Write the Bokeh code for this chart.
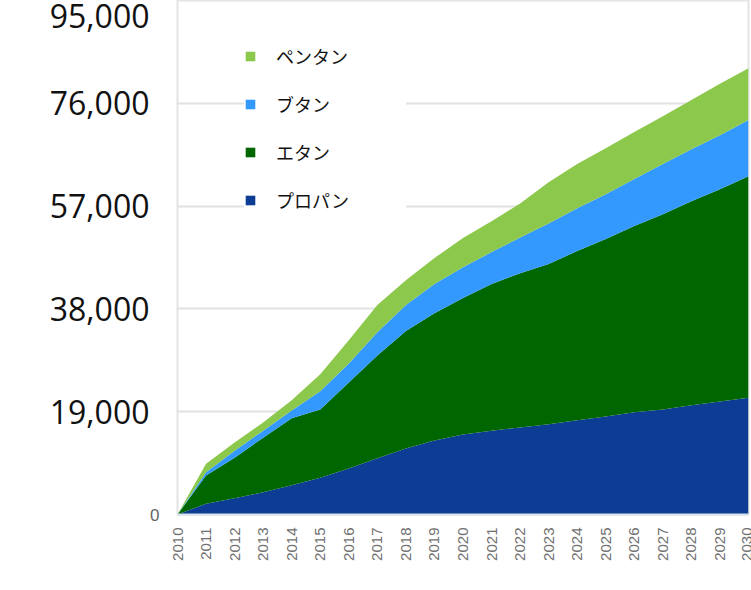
import math
from bokeh.plotting import figure
from bokeh.models import (ColumnDataSource, Range1d, FixedTicker, Legend, LegendItem,
                          LinearAxis, NumeralTickFormatter)
from bokeh.embed import file_html
from bokeh.resources import INLINE

years = list(range(2010, 2031))
propane = [0, 2000, 3000, 4100, 5400, 6800, 8500, 10400, 12200, 13700, 14800,
           15500, 16100, 16700, 17400, 18100, 18900, 19400, 20200, 20900, 21600]
ethane = [0, 5200, 7500, 10100, 12400, 12600, 15900, 19000, 21700, 23500, 25200,
          27100, 28500, 29600, 31300, 32800, 34400, 36100, 37700, 39200, 40900]
butane = [0, 600, 1300, 1300, 1400, 3400, 3500, 4300, 4800, 5400, 5700,
          5900, 6600, 7500, 7900, 8300, 8700, 9300, 9600, 10000, 10400]
pentane = [0, 1600, 1500, 1500, 1900, 3100, 4300, 5000, 4600, 4800, 5400,
           5700, 6300, 7600, 8200, 8500, 8700, 8800, 9100, 9500, 9600]

series_keys = ["propane", "ethane", "butane", "pentane"]
series_names = ["プロパン", "エタン", "ブタン", "ペンタン"]
colors = ["#0c3c94", "#006600", "#3399ff", "#8cc84b"]
grid_ticks = [0, 19000, 38000, 57000, 76000, 95000]
# the big tick labels; the top one sits just below the frame's top edge, as in the source
label_ticks = [19000, 38000, 57000, 76000, 92200]
label_texts = ["19,000", "38,000", "57,000", "76,000", "95,000"]

src = ColumnDataSource(dict(year=years, propane=propane, ethane=ethane,
                            butane=butane, pentane=pentane))

p = figure(width=751, height=590, output_backend="svg", toolbar_location=None,
           x_range=Range1d(2010, 2030), y_range=Range1d(0, 95000),
           min_border_left=177, min_border_right=3, min_border_top=0,
           min_border_bottom=76)
p.background_fill_color = "white"
p.border_fill_color = "white"
p.outline_line_color = "#e4e4e4"
p.outline_line_width = 2

rs = p.varea_stack(stackers=series_keys, x="year", color=colors, source=src)

p.xgrid.visible = False
p.ygrid.ticker = FixedTicker(ticks=grid_ticks)
p.ygrid.grid_line_color = "#e2e2e2"
p.ygrid.grid_line_width = 2

# inner axis: the small grey "0"
ya = p.yaxis[0]
ya.ticker = FixedTicker(ticks=[0])
ya.formatter = NumeralTickFormatter(format="0,0")
ya.major_label_text_font = "Liberation Sans"
ya.major_label_text_font_size = "17px"
ya.major_label_text_color = "#666666"
ya.major_label_standoff = 12
ya.axis_line_color = None
ya.major_tick_line_color = None
ya.minor_tick_line_color = None

# outer axis: the large labels
ya2 = LinearAxis(ticker=FixedTicker(ticks=label_ticks),
                 major_label_overrides={t: s for t, s in zip(label_ticks, label_texts)})
ya2.major_label_text_font = "Open Sans"
ya2.major_label_text_font_size = "32px"
ya2.major_label_text_color = "#111111"
ya2.major_label_standoff = -8
ya2.axis_line_color = None
ya2.major_tick_line_color = None
ya2.minor_tick_line_color = None
p.add_layout(ya2, "left")

xa = p.xaxis[0]
xa.ticker = FixedTicker(ticks=years)
xa.major_label_orientation = math.pi / 2
xa.major_label_text_font = "Liberation Sans"
xa.major_label_text_font_size = "15px"
xa.major_label_text_color = "#707070"
xa.major_label_standoff = 7
xa.axis_line_color = "#d6e2ee"
xa.axis_line_width = 2
xa.major_tick_line_color = None
xa.minor_tick_line_color = None

items = [LegendItem(label=series_names[i], renderers=[rs[i]]) for i in [3, 2, 1, 0]]
legend = Legend(items=items, location=(67, 301))
legend.label_text_font = "Noto Sans CJK JP"
legend.label_text_font_size = "18px"
legend.label_text_color = "#111111"
legend.glyph_width = 12
legend.glyph_height = 12
legend.label_height = 20
legend.label_width = 130
legend.label_standoff = 20
legend.spacing = 22
legend.padding = 10
legend.background_fill_color = "white"
legend.background_fill_alpha = 1.0
legend.border_line_color = None
p.add_layout(legend)

open("out.html", "w").write(file_html(p, INLINE))
